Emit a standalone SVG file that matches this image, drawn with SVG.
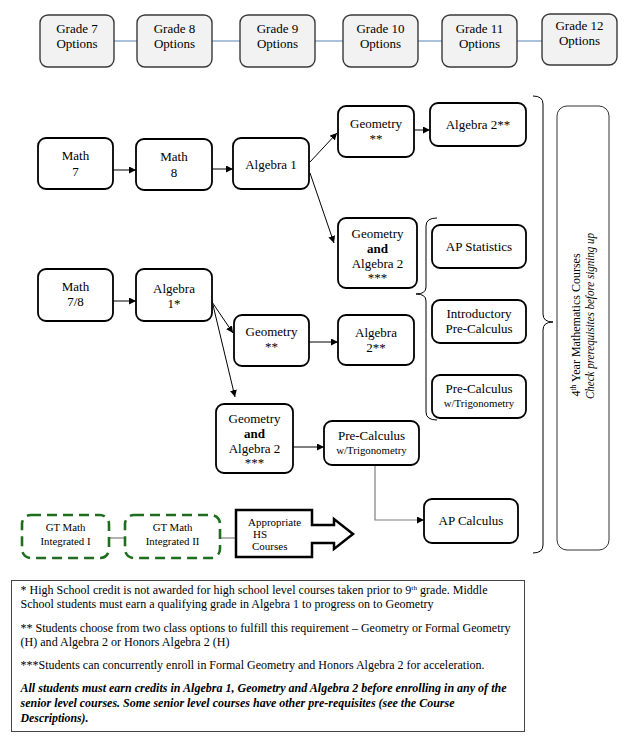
<svg xmlns="http://www.w3.org/2000/svg" width="640" height="739" viewBox="0 0 640 739" font-family="'Liberation Serif', 'Times New Roman', Times, serif">
<defs>
<marker id="ah" viewBox="0 0 10 10" refX="10" refY="5" markerWidth="7" markerHeight="7" orient="auto" markerUnits="userSpaceOnUse">
<path d="M0,0 L10,5 L0,10 Z" fill="#000"/>
</marker>
</defs>
<style>
text{font-family:'Liberation Serif','Times New Roman',Times,serif;fill:#000;}
.t{font-size:13px;text-anchor:middle;}
.s{font-size:10.8px;text-anchor:middle;}
.b{font-weight:bold;}
.grade rect{fill:#f2f2f2;stroke:#3a3a3a;stroke-width:1.4;}
.node rect{fill:#fff;stroke:#000;stroke-width:1.8;}
.gt rect{fill:#fff;stroke:#1f6e1f;stroke-width:2.6;stroke-dasharray:10 6;}
.ln{fill:none;stroke:#000;stroke-width:1;}
.gl{fill:none;stroke:#7f7f7f;stroke-width:1.2;}
.bl{fill:none;stroke:#7f9fc7;stroke-width:1.3;}
.fn{font-size:11.5px;}
</style>
<rect x="0" y="0" width="640" height="739" fill="#fff"/>

<g id="connectors">
<line class="bl" x1="114" y1="41" x2="137" y2="41"/>
<line class="bl" x1="212" y1="41" x2="240" y2="41"/>
<line class="bl" x1="315" y1="41" x2="343" y2="41"/>
<line class="bl" x1="418" y1="41" x2="442" y2="41"/>
<line class="bl" x1="517" y1="41" x2="542" y2="41"/>
<line class="ln" x1="113" y1="170" x2="136" y2="170" marker-end="url(#ah)"/>
<line class="ln" x1="212" y1="169" x2="233" y2="169" marker-end="url(#ah)"/>
<line class="ln" x1="310" y1="162" x2="337" y2="133" marker-end="url(#ah)"/>
<line class="ln" x1="310" y1="173" x2="334" y2="243" marker-end="url(#ah)"/>
<line class="ln" x1="414" y1="130" x2="430" y2="130" marker-end="url(#ah)"/>
<line class="ln" x1="113" y1="301" x2="136" y2="301" marker-end="url(#ah)"/>
<line class="ln" x1="212" y1="302" x2="233" y2="333" marker-end="url(#ah)"/>
<line class="ln" x1="213" y1="305" x2="235" y2="397" marker-end="url(#ah)"/>
<line class="ln" x1="309" y1="342" x2="338" y2="342" marker-end="url(#ah)"/>
<line class="ln" x1="293" y1="447" x2="324" y2="447" marker-end="url(#ah)"/>
<polyline class="gl" points="375,465 375,520 424,520" marker-end="url(#ah)"/>
<line class="gl" x1="109" y1="538" x2="125" y2="538"/>
<line class="gl" x1="220" y1="538" x2="236" y2="538"/>
<path class="ln" d="M533,96 Q543,96 543,104 L543,314 Q543,322 553,322 Q543,322 543,330 L543,545 Q543,553 533,553" stroke="#333"/>
<path class="ln" d="M437,218 Q426,218 426,226 L426,287 Q426,294 416,294 Q426,294 426,301 L426,412 Q426,420 437,420" stroke="#333"/>
</g>

<g id="grade7" class="grade"><rect x="40" y="15" width="74" height="52" rx="8"/><text class="t" x="77" y="33">Grade 7</text><text class="t" x="77" y="48">Options</text></g>
<g id="grade8" class="grade"><rect x="137" y="15" width="75" height="52" rx="8"/><text class="t" x="174.5" y="33">Grade 8</text><text class="t" x="174.5" y="48">Options</text></g>
<g id="grade9" class="grade"><rect x="240" y="15" width="75" height="52" rx="8"/><text class="t" x="277.5" y="33">Grade 9</text><text class="t" x="277.5" y="48">Options</text></g>
<g id="grade10" class="grade"><rect x="343" y="15" width="75" height="52" rx="8"/><text class="t" x="380.5" y="33">Grade 10</text><text class="t" x="380.5" y="48">Options</text></g>
<g id="grade11" class="grade"><rect x="442" y="15" width="75" height="52" rx="8"/><text class="t" x="479.5" y="33">Grade 11</text><text class="t" x="479.5" y="48">Options</text></g>
<g id="grade12" class="grade"><rect x="542" y="14" width="75" height="51" rx="8"/><text class="t" x="579.5" y="30">Grade 12</text><text class="t" x="579.5" y="45">Options</text></g>

<g id="math7" class="node"><rect x="38" y="138" width="75" height="51" rx="8"/><text class="t" x="75.5" y="160">Math</text><text class="t" x="75.5" y="176">7</text></g>
<g id="math8" class="node"><rect x="136" y="139" width="76" height="51" rx="8"/><text class="t" x="174" y="161">Math</text><text class="t" x="174" y="177">8</text></g>
<g id="algebra1" class="node"><rect x="233" y="138" width="76" height="51" rx="8"/><text class="t" x="271" y="169">Algebra 1</text></g>
<g id="geometry1" class="node"><rect x="338" y="106" width="76" height="51" rx="8"/><text class="t" x="376" y="128">Geometry</text><text class="t" x="376" y="143">**</text></g>
<g id="algebra2a" class="node"><rect x="430" y="103" width="96" height="43" rx="8"/><text class="t" x="478" y="129">Algebra 2**</text></g>
<g id="geoalg2a" class="node"><rect x="338" y="218" width="79" height="70" rx="8"/><text class="t" x="377.5" y="238">Geometry</text><text class="t b" x="377.5" y="253">and</text><text class="t" x="377.5" y="268">Algebra 2</text><text class="t" x="377.5" y="282">***</text></g>
<g id="apstat" class="node"><rect x="432" y="225" width="94" height="43" rx="8"/><text class="t" x="479" y="251">AP Statistics</text></g>
<g id="introprecalc" class="node"><rect x="432" y="300" width="94" height="43" rx="8"/><text class="t" x="479" y="318">Introductory</text><text class="t" x="479" y="333">Pre-Calculus</text></g>
<g id="precalc1" class="node"><rect x="432" y="375" width="94" height="43" rx="8"/><text class="t" x="479" y="393">Pre-Calculus</text><text class="s" x="479" y="407">w/Trigonometry</text></g>
<g id="math78" class="node"><rect x="38" y="269" width="75" height="52" rx="8"/><text class="t" x="75.5" y="291">Math</text><text class="t" x="75.5" y="306">7/8</text></g>
<g id="algebra1star" class="node"><rect x="136" y="269" width="76" height="52" rx="8"/><text class="t" x="174" y="293">Algebra</text><text class="t" x="174" y="308">1*</text></g>
<g id="geometry2" class="node"><rect x="234" y="315" width="75" height="51" rx="8"/><text class="t" x="271.5" y="336">Geometry</text><text class="t" x="271.5" y="351">**</text></g>
<g id="algebra2b" class="node"><rect x="338" y="315" width="76" height="50" rx="8"/><text class="t" x="376" y="337">Algebra</text><text class="t" x="376" y="352">2**</text></g>
<g id="geoalg2b" class="node"><rect x="216" y="404" width="77" height="69" rx="8"/><text class="t" x="254.5" y="423">Geometry</text><text class="t b" x="254.5" y="438">and</text><text class="t" x="254.5" y="453">Algebra 2</text><text class="t" x="254.5" y="467">***</text></g>
<g id="precalc2" class="node"><rect x="324" y="421" width="95" height="44" rx="8"/><text class="t" x="371.5" y="440">Pre-Calculus</text><text class="s" x="371.5" y="454">w/Trigonometry</text></g>
<g id="apcalc" class="node"><rect x="424" y="499" width="94" height="44" rx="8"/><text class="t" x="471" y="525">AP Calculus</text></g>

<g id="gtmath1" class="gt"><rect x="22" y="515" width="87" height="43" rx="9"/><text class="s" x="65.5" y="531">GT Math</text><text class="s" x="65.5" y="545">Integrated I</text></g>
<g id="gtmath2" class="gt"><rect x="125" y="515" width="95" height="43" rx="9"/><text class="s" x="172.5" y="531">GT Math</text><text class="s" x="172.5" y="545">Integrated II</text></g>
<g id="hscourses">
<path d="M236,510 H312 V525 H334 V519 L353,534 L334,549 V543 H312 V557 H236 Z" fill="#fff" stroke="#000" stroke-width="2.5" stroke-linejoin="miter"/>
<text x="248" y="526" font-size="11">Appropriate</text>
<text x="253" y="538" font-size="11">HS</text>
<text x="252" y="550" font-size="11">Courses</text>
</g>

<g id="fourthyear">
<rect x="557" y="106" width="52" height="444" rx="10" fill="#fff" stroke="#333" stroke-width="1"/>
<text transform="translate(580,325) rotate(-90)" font-size="12" text-anchor="middle">4<tspan font-size="7.5" dy="-4.5">th</tspan><tspan dy="4.5"> Year Mathematics Courses</tspan></text>
<text transform="translate(594,316) rotate(-90)" font-size="11.5" font-style="italic" text-anchor="middle" textLength="166" lengthAdjust="spacingAndGlyphs">Check prerequisites before signing up</text>
</g>

<g id="footnotes">
<rect x="11.5" y="580.5" width="513" height="151" fill="#fff" stroke="#444" stroke-width="1"/>
<text class="fn" x="20.5" y="594" textLength="467" lengthAdjust="spacingAndGlyphs">* High School credit is not awarded for high school level courses taken prior to 9<tspan font-size="7" dy="-4">th</tspan><tspan dy="4"> grade. Middle</tspan></text>
<text class="fn" x="20.5" y="608" textLength="413" lengthAdjust="spacingAndGlyphs">School students must earn a qualifying grade in Algebra 1 to progress on to Geometry</text>
<text class="fn" x="20.5" y="632" textLength="490" lengthAdjust="spacingAndGlyphs">** Students choose from two class options to fulfill this requirement – Geometry or Formal Geometry</text>
<text class="fn" x="20.5" y="646" textLength="209" lengthAdjust="spacingAndGlyphs">(H) and Algebra 2 or Honors Algebra 2 (H)</text>
<text class="fn" x="20.5" y="669" textLength="464" lengthAdjust="spacingAndGlyphs">***Students can concurrently enroll in Formal Geometry and Honors Algebra 2 for acceleration.</text>
<text class="fn" x="20.5" y="692" font-weight="bold" font-style="italic" textLength="486" lengthAdjust="spacingAndGlyphs">All students must earn credits in Algebra 1, Geometry and Algebra 2 before enrolling in any of the</text>
<text class="fn" x="20.5" y="707" font-weight="bold" font-style="italic" textLength="434" lengthAdjust="spacingAndGlyphs">senior level courses. Some senior level courses have other pre-requisites (see the Course</text>
<text class="fn" x="20.5" y="722" font-weight="bold" font-style="italic" textLength="68" lengthAdjust="spacingAndGlyphs">Descriptions).</text>
</g>
</svg>
